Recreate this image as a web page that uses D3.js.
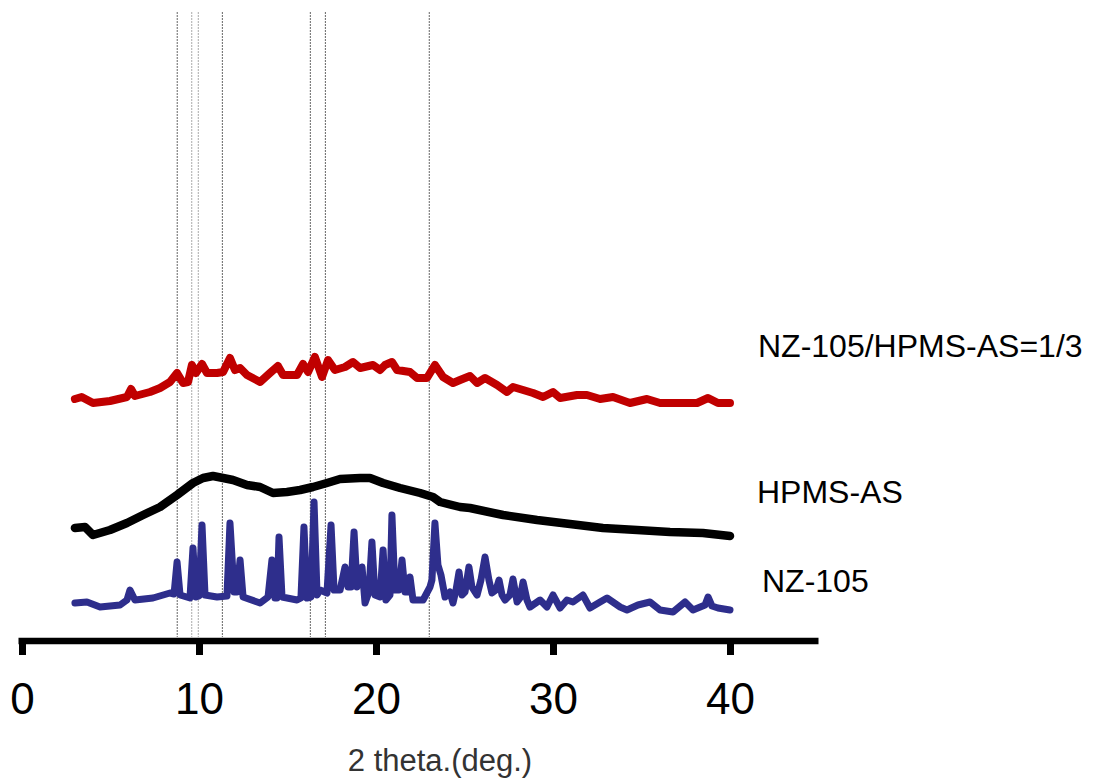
<!DOCTYPE html>
<html>
<head>
<meta charset="utf-8">
<script src="https://cdn.jsdelivr.net/npm/d3@7"></script>
<style>
  html, body { margin: 0; padding: 0; background: #fff; }
  svg { display: block; }
</style>
</head>
<body>
<svg id="chart" width="1101" height="781"></svg>
<script>
// ---------------- data ----------------
const xTicks = [0, 10, 20, 30, 40];
const xLabel = "2 theta.(deg.)";
const seriesNames = ["NZ-105/HPMS-AS=1/3", "HPMS-AS", "NZ-105"];
const refLines = [8.77, 9.59, 9.96, 11.32, 16.29, 17.14, 23.01];

// NZ-105/HPMS-AS=1/3 (2theta, intensity a.u., offset trace)
const mixTheta = [2.99,3.37,4.01,4.97,5.93,6.16,6.38,7.23,7.80,8.36,8.76,9.10,9.38,9.60,9.83,10.17,10.45,11.02,11.36,11.75,12.03,12.32,12.71,13.45,14.01,14.46,14.75,15.54,15.88,16.16,16.55,16.95,17.29,17.68,18.25,18.70,19.10,19.83,20.23,20.51,20.90,21.19,21.92,22.32,22.88,23.33,23.79,24.35,24.75,25.31,25.71,26.16,26.84,27.40,27.74,28.31,28.87,29.44,30.00,30.40,31.36,31.92,32.66,33.39,34.35,35.31,36.05,37.18,38.14,38.76,39.32,40.00];
const mixInt   = [242,244,238,240,244,252,245,249,253,259,268,258,259,276,268,277,268,268,269,283,271,273,266,259,268,275,266,266,277,269,284,264,281,271,274,279,273,276,271,276,279,271,269,263,263,276,264,258,261,265,258,263,256,249,254,251,248,244,249,243,246,246,242,244,238,242,238,238,238,243,238,238];

// HPMS-AS
const hpmsTheta = [2.99,3.56,4.01,4.97,5.93,6.84,7.80,8.76,9.66,10.23,10.79,11.36,11.92,12.71,13.45,14.18,14.97,15.71,16.44,17.23,17.97,19.10,19.66,20.40,21.36,22.49,23.22,23.62,24.75,25.31,27.18,29.10,30.96,32.82,34.75,36.61,38.47,40.00];
const hpmsInt   = [113,114,106,111,118,126,134,146,158,163,165,163,161,156,154,148,149,151,154,158,162,163,163,158,153,148,144,139,134,133,126,121,117,113,111,109,108,105];

// NZ-105
const nzTheta = [2.99,3.67,4.41,5.54,5.93,6.10,6.38,7.40,8.36,8.59,8.76,8.93,9.49,9.66,9.83,10.00,10.17,10.34,11.02,11.58,11.75,11.98,12.15,12.32,12.49,13.45,13.90,14.12,14.29,14.41,14.52,14.69,15.54,15.76,15.93,16.10,16.33,16.50,16.67,16.84,17.23,17.46,17.63,17.97,18.25,18.42,18.59,18.76,18.93,19.21,19.38,19.60,19.77,19.94,20.23,20.40,20.56,20.79,20.90,21.07,21.30,21.47,21.64,21.81,21.92,22.09,22.66,23.05,23.16,23.33,23.50,23.67,23.90,24.18,24.35,24.52,24.69,24.86,25.03,25.25,25.42,25.71,25.93,26.16,26.38,26.55,26.78,26.95,27.12,27.29,27.57,27.74,27.97,28.14,28.31,28.53,28.70,29.27,29.66,30.00,30.40,30.79,31.13,31.69,32.09,32.66,33.05,33.79,34.18,34.80,35.48,36.05,36.78,37.46,37.91,38.59,38.76,38.98,39.32,40.00];
const nzInt   = [38,39,34,36,41,51,41,43,48,47,79,46,43,93,44,45,116,46,44,45,118,49,49,81,44,38,44,81,43,43,104,44,41,43,114,43,44,139,46,51,48,116,51,51,74,54,54,109,54,74,38,49,99,46,44,91,41,46,126,51,51,81,49,49,64,41,41,54,61,118,76,66,44,49,38,51,69,46,49,74,54,46,61,84,61,48,51,61,46,41,46,62,39,43,59,41,34,41,34,46,33,41,39,46,33,39,43,34,31,36,39,31,29,39,31,36,44,35,33,31];

// ---------------- chart ----------------
const svg = d3.select("#chart");
const x = d3.scaleLinear().domain([0, 45]).range([22, 818.5]);
const y = d3.scaleLinear().domain([0, 630]).range([641, 11]);

// reference (dotted) lines
svg.append("g").selectAll("line").data(refLines).join("line")
  .attr("x1", d => x(d)).attr("x2", d => x(d))
  .attr("y1", 12).attr("y2", 637)
  .attr("stroke", (d, i) => (i === 1 || i === 2) ? "#aaa" : "#666")
  .attr("stroke-width", 1)
  .attr("stroke-dasharray", "2,1");

const line = d3.line().x(d => x(d[0])).y(d => y(d[1]));
const traces = [
  {theta: mixTheta, val: mixInt, color: "#c00000", w: 8},
  {theta: hpmsTheta, val: hpmsInt, color: "#000000", w: 8.5},
  {theta: nzTheta, val: nzInt, color: "#2e2e8c", w: 7}
];
traces.forEach(t => {
  svg.append("path")
    .datum(d3.zip(t.theta, t.val))
    .attr("d", line)
    .attr("fill", "none")
    .attr("stroke", t.color)
    .attr("stroke-width", t.w)
    .attr("stroke-linejoin", "round")
    .attr("stroke-linecap", "round");
});

// x axis
const axis = d3.axisBottom(x).tickValues(xTicks).tickSize(14).tickSizeOuter(0).tickFormat(d3.format("d"));
const gAxis = svg.append("g").attr("transform", "translate(0,641)").call(axis);
gAxis.select(".domain").attr("stroke", "#000").attr("stroke-width", 6.5).attr("d", `M${x(0) - 3.5},0H${x(45)}`);
gAxis.selectAll(".tick line").attr("stroke", "#000").attr("stroke-width", 7);
gAxis.selectAll(".tick text")
  .attr("y", 73).attr("dy", 0)
  .attr("fill", "#000")
  .style("font-family", "'Liberation Sans', Arial, sans-serif")
  .style("font-size", "44px");

// axis title
svg.append("text")
  .attr("x", 440).attr("y", 771)
  .attr("text-anchor", "middle")
  .attr("fill", "#333")
  .style("font-family", "'Liberation Sans', Arial, sans-serif")
  .style("font-size", "31px")
  .text(xLabel);

// series labels
const labelPos = [[758, 357], [757, 503], [762, 592]];
svg.append("g").selectAll("text").data(seriesNames).join("text")
  .attr("x", (d, i) => labelPos[i][0])
  .attr("y", (d, i) => labelPos[i][1])
  .attr("fill", "#000")
  .style("font-family", "'Liberation Sans', Arial, sans-serif")
  .style("font-size", "32px")
  .text(d => d);
</script>
</body>
</html>
